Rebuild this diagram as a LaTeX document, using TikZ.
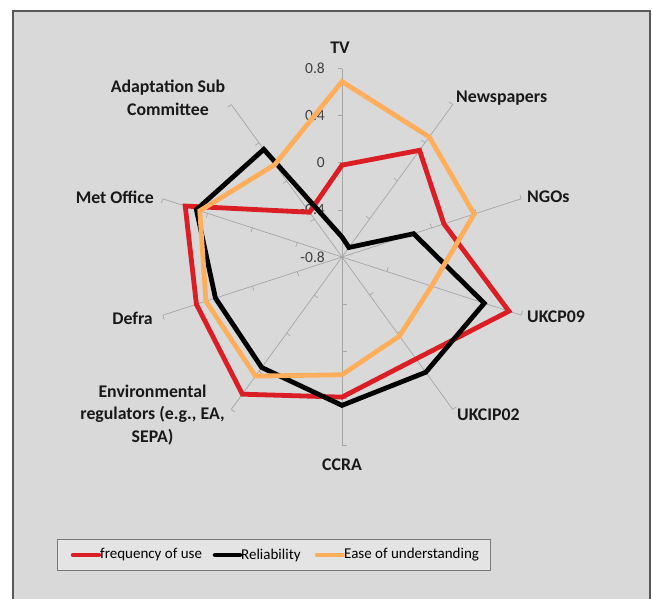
\documentclass[tikz,border=0pt]{standalone}
\usepackage{fontspec}
\setmainfont{Carlito}
\definecolor{bgc}{HTML}{D9D9D9}
\definecolor{framec}{HTML}{595959}
\definecolor{axisc}{HTML}{A6A6A6}
\definecolor{numc}{HTML}{404040}
\definecolor{legc}{HTML}{E4E4E4}
\definecolor{redc}{RGB}{218,30,36}
\definecolor{orac}{RGB}{255,174,92}
\tikzset{
  spoke/.style={draw=axisc,line width=0.7pt},
  series/.style={line width=4.8pt,line join=miter,miter limit=6},
  catlabel/.style={font=\bfseries\fontsize{17.8}{22.5}\selectfont,text=black!90,inner sep=0pt,align=center},
  numlabel/.style={font=\fontsize{15.5}{16}\selectfont,text=numc,inner sep=0pt,anchor=east},
  legtext/.style={font=\fontsize{15}{16}\selectfont,text=black,inner sep=0pt,anchor=west},
}
\begin{document}
\begin{tikzpicture}[x=1pt,y=1pt]
\useasboundingbox (0,0) rectangle (652,598);
\fill[white] (0,0) rectangle (652,598);
\draw[fill=bgc,draw=framec,line width=2pt] (13,587) rectangle (650,-5);
\begin{scope}[shift={(342,341)}]
  % spokes and ticks
  \foreach \a [count=\i] in {90,54,18,-18,-54,-90,-126,-162,162,126} {
    \coordinate (ax\i) at (\a:188.4);
    \draw[spoke] (0,0) -- (ax\i);
    \foreach \r in {47.1,94.2,141.3,188.4} {
      \draw[spoke] (\a:\r) -- ([shift={(\a+90:4.5)}]\a:\r);
    }
  }
  % value labels
  \foreach \v/\r [count=\i] in {0.8/188.4,0.4/141.3,0/94.2,-0.4/47.1,-0.8/0} {
    \node[numlabel] (num\i) at (-17,\r) {\v};
  }
  % data
  \foreach \a/\v [count=\i] in {90/-0.02,54/0.32,18/0.11,-18/0.69,-54/0.27,-90/0.39,-126/0.64,-162/0.50,162/0.60,126/-0.33} {
    \coordinate (f\i) at (\a:{(\v+0.8)*117.75});
  }
  \foreach \a/\v [count=\i] in {90/-0.63,54/-0.70,18/-0.16,-18/0.47,-54/0.41,-90/0.46,-126/0.36,-162/0.33,162/0.50,126/0.33} {
    \coordinate (b\i) at (\a:{(\v+0.8)*117.75});
  }
  \foreach \a/\v [count=\i] in {90/0.69,54/0.46,18/0.38,-18/0.0,-54/0.03,-90/0.20,-126/0.45,-162/0.415,162/0.47,126/0.17} {
    \coordinate (e\i) at (\a:{(\v+0.8)*117.75});
  }
  \draw[series,draw=redc] (f1)--(f2)--(f3)--(f4)--(f5)--(f6)--(f7)--(f8)--(f9)--(f10)--cycle;
  \draw[series,draw=black] (b1)--(b2)--(b3)--(b4)--(b5)--(b6)--(b7)--(b8)--(b9)--(b10)--cycle;
  \draw[series,draw=orac] (e1)--(e2)--(e3)--(e4)--(e5)--(e6)--(e7)--(e8)--(e9)--(e10)--cycle;
\end{scope}
% category labels
\node[catlabel] (tv) at (340,550) {TV};
\node[catlabel,anchor=west] (news) at (456,500) {Newspapers};
\node[catlabel,anchor=west] (ngo) at (527,401) {NGOs};
\node[catlabel,anchor=west] (ukcp) at (527,281) {UKCP09};
\node[catlabel,anchor=west] (ukcip) at (457,183) {UKCIP02};
\node[catlabel] (ccra) at (342,133) {CCRA};
\node[catlabel] (env) at (152.5,183) {Environmental\\regulators (e.g., EA,\\SEPA)};
\node[catlabel,anchor=east] (defra) at (153,280) {Defra};
\node[catlabel,anchor=east] (met) at (154,401) {Met Office};
\node[catlabel] (asc) at (168,500) {Adaptation Sub\\Committee};
% legend
\draw[fill=legc,draw=framec!80,line width=0.8pt] (57,27.3) rectangle (490,58.7);
\coordinate (l1a) at (73,43); \coordinate (l1b) at (99,43);
\coordinate (l2a) at (215,43); \coordinate (l2b) at (240,43);
\coordinate (l3a) at (317,43); \coordinate (l3b) at (343,43);
\draw[redc,line width=4.5pt,line cap=round] (l1a) -- (l1b);
\draw[black,line width=4.5pt,line cap=round] (l2a) -- (l2b);
\draw[orac,line width=4.5pt,line cap=round] (l3a) -- (l3b);
\node[legtext] (lt1) at (100,43) {frequency of use};
\node[legtext] (lt2) at (241,43) {Reliability};
\node[legtext] (lt3) at (344,43) {Ease of understanding};
\end{tikzpicture}
\end{document}
